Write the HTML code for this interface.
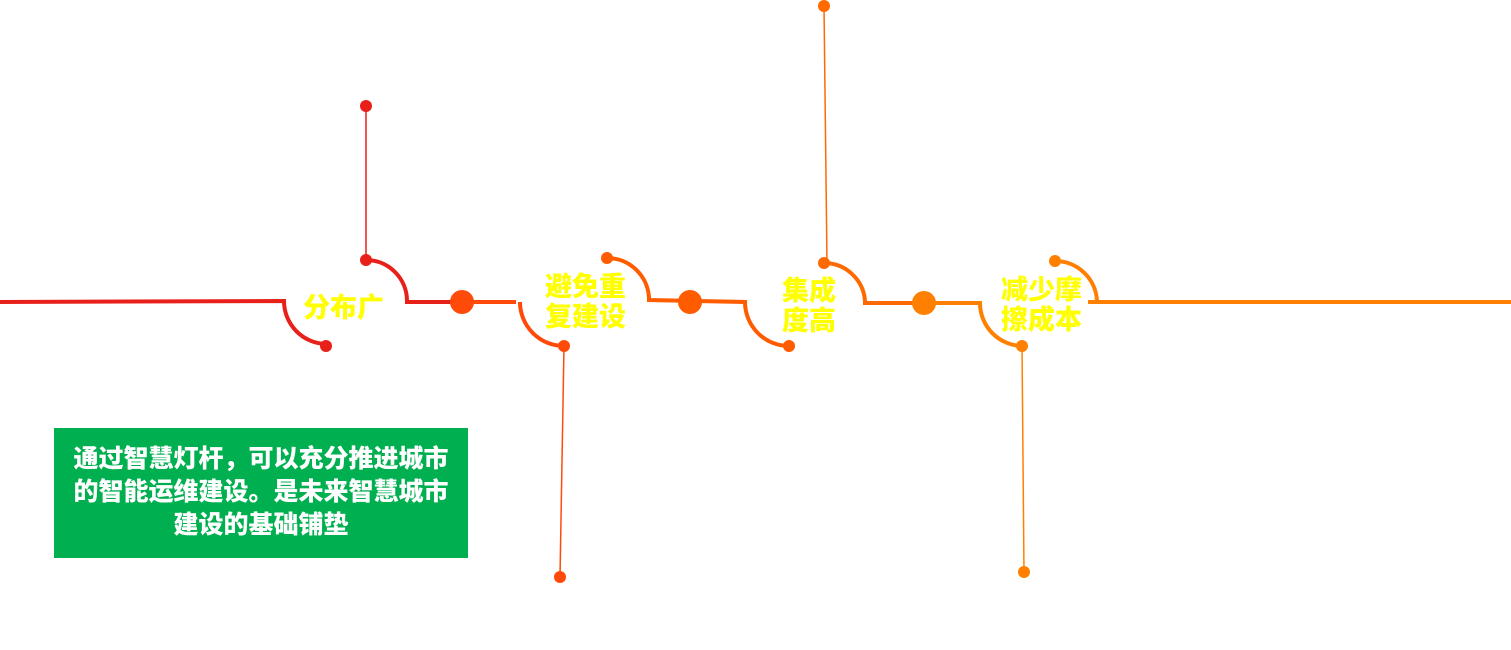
<!DOCTYPE html>
<html><head><meta charset="utf-8"><style>
html,body{margin:0;padding:0;background:#fff;}
body{width:1511px;height:650px;position:relative;overflow:hidden;}
svg{position:absolute;left:0;top:0;}
.t{position:absolute;color:#ffff00;font-family:"Liberation Sans","Noto Sans CJK SC",sans-serif;font-weight:900;font-size:27px;line-height:30px;white-space:nowrap;}
.box{position:absolute;left:54px;top:428px;width:414px;height:130px;background:#00b050;color:#fff;font-family:"Liberation Sans","Noto Sans CJK SC",sans-serif;font-weight:900;font-size:25px;line-height:33px;text-align:center;box-sizing:border-box;padding-top:15px;white-space:nowrap;}
</style></head><body>
<svg width="1511" height="650" fill="none" stroke-width="4">
<g stroke="#e8201a">
<path d="M0,302 L284,301 A43,43 0 0 0 326,344"/>
<path d="M366,260 A41,41 0 0 1 407,300 L407,302 L460,302"/>
<line x1="366" y1="106" x2="366" y2="260" stroke-width="1.5"/>
</g>
<g fill="#e8201a"><circle cx="326" cy="346" r="6"/><circle cx="366" cy="260" r="6"/><circle cx="366" cy="106" r="6"/></g>
<g stroke="#ff4a0a"><path d="M460,302 L516,302"/><path d="M520,302 A44,44 0 0 0 564,346"/>
<line x1="564" y1="346" x2="560" y2="577" stroke-width="1.5"/></g>
<g fill="#ff4a0a"><circle cx="462" cy="302" r="12"/><circle cx="564" cy="346" r="6"/><circle cx="560" cy="577" r="6"/></g>
<g stroke="#ff5c00"><path d="M607,258 A42,42 0 0 1 649,298 L649,300 L745,302 A44,44 0 0 0 789,346"/></g>
<g fill="#ff5c00"><circle cx="607" cy="258" r="6"/><circle cx="690" cy="302" r="12"/><circle cx="789" cy="346" r="6"/></g>
<g stroke="#ff6a00"><path d="M824,263 A41,41 0 0 1 865,301 L865,303 L924,303"/>
<line x1="824" y1="6" x2="827" y2="263" stroke-width="1.5"/></g>
<g fill="#ff6a00"><circle cx="824" cy="263" r="6"/><circle cx="824" cy="6" r="6"/></g>
<g stroke="#ff8000"><path d="M924,303 L978,303 L980,303 A43,43 0 0 0 1022,346"/>
<line x1="1022" y1="346" x2="1024" y2="572" stroke-width="1.5"/>
<path d="M1055,261 A42,42 0 0 1 1097,301 L1097,302 M1088,302 L1511,302"/></g>
<g fill="#ff8000"><circle cx="924" cy="303" r="12"/><circle cx="1022" cy="346" r="6"/><circle cx="1024" cy="572" r="6"/><circle cx="1055" cy="261" r="6"/></g>
</svg>
<div class="t" style="left:303px;top:293px;">分布广</div>
<div class="t" style="left:545px;top:272px;">避免重<br>复建设</div>
<div class="t" style="left:782px;top:276px;">集成<br>度高</div>
<div class="t" style="left:1001px;top:275px;">减少摩<br>擦成本</div>
<div class="box">通过智慧灯杆，可以充分推进城市<br>的智能运维建设。是未来智慧城市<br>建设的基础铺垫</div>
</body></html>
